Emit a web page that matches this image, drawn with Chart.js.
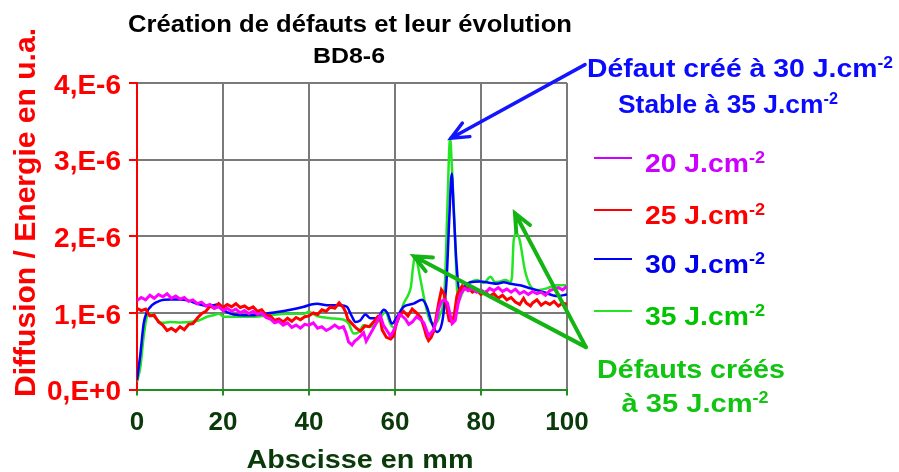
<!DOCTYPE html>
<html>
<head>
<meta charset="utf-8">
<script src="https://cdn.jsdelivr.net/npm/chart.js@4.4.1/dist/chart.umd.min.js"></script>
<style>
  html, body { margin: 0; padding: 0; background: #fff; }
  canvas { display: block; }
</style>
</head>
<body>
<canvas id="chart" width="899" height="472"></canvas>
<script>
const FONT = '"Liberation Sans", Arial, Helvetica, sans-serif';

// axis tick labels
const xTickLabels = ['0', '20', '40', '60', '80', '100'];
const yTickLabels = ['0,E+0', '1,E-6', '2,E-6', '3,E-6', '4,E-6'];

// series names (fluence)
const names = ['20 J.cm', '25 J.cm', '30 J.cm', '35 J.cm'];

// abscissa in mm / diffusion in 1e-6 u.a.
const x20 = [0,1,2,3,4,5,6,7,8,9,10,11,12,13,14,15,16,17,18,19,20,21,22,23,24,25,26,27,28,29,30,31,32,33,34,35,36,37,38,39,40,41,42,43,44,45,46,47,48,48.6,49.2,50,50.6,51.3,52,52.7,53.3,54,54.6,55.4,56.1,56.6,57.3,58,58.9,59.5,60.1,61,61.6,62.4,63.2,64,65,66,66.7,67.3,67.8,68.4,69,69.6,70.2,70.8,71.5,72.2,72.8,73.3,74,74.6,75.3,76.2,77,78,79,80,81,82,83,84,85,86,87,88,89,90,91,92,93,94,95,96,97,98,99,100];
const y20 = [1.16,1.20,1.17,1.23,1.19,1.24,1.21,1.25,1.19,1.22,1.18,1.20,1.15,1.17,1.12,1.14,1.09,1.11,1.06,1.08,1.03,1.06,1.02,1.05,1.00,1.03,0.99,1.02,0.98,1.00,0.94,0.92,0.87,0.89,0.84,0.87,0.81,0.84,0.80,0.85,0.84,0.87,0.80,0.82,0.77,0.80,0.84,0.80,0.82,0.74,0.62,0.58,0.63,0.66,0.70,0.74,0.63,0.70,0.76,0.84,0.92,0.96,0.84,0.78,0.70,0.75,0.82,0.98,0.96,0.92,0.85,0.88,0.95,0.91,0.87,0.78,0.70,0.74,0.78,0.90,1.06,1.15,1.17,1.13,0.98,0.86,0.90,1.10,1.25,1.32,1.29,1.32,1.27,1.30,1.26,1.32,1.29,1.33,1.28,1.31,1.27,1.31,1.25,1.28,1.24,1.28,1.25,1.27,1.23,1.29,1.31,1.33,1.30,1.35];

const x25 = [0,1,2,3,4,5,6,7,8,9,10,11,12,13,14,15,16,17,18,19,20,21,22,23,24,25,26,27,28,29,30,31,32,33,34,35,36,37,38,39,40,41,42,43,44,45,46,47,48,48.6,49,50,51,52,53,54,55,56,56.6,57,58,59,59.7,60.3,61,62,63,64,65,66,66.7,67.3,67.8,68.4,69,69.6,70.2,70.8,71.4,72,72.6,73.3,73.8,74.4,75,75.6,76,77,78,79,80,81,82,83,84,85,86,87,88,89,89.9,90.5,91.5,92,93,94,95,96,97,98,99,100];
const y25 = [1.06,1.03,1.05,0.96,0.97,0.88,0.84,0.77,0.80,0.76,0.82,0.78,0.85,0.86,0.93,0.99,1.02,1.09,1.06,1.12,1.07,1.11,1.08,1.12,1.07,1.09,1.05,1.08,1.02,1.04,0.97,0.96,0.90,0.92,0.88,0.93,0.89,0.94,0.91,0.95,0.96,1.00,0.98,1.04,1.02,1.08,1.06,1.13,1.07,1.00,0.92,0.86,0.80,0.76,0.83,0.82,0.88,0.95,0.92,0.78,0.68,0.66,0.70,0.86,0.96,1.02,0.96,1.05,1.00,0.94,0.82,0.70,0.64,0.68,0.76,0.95,1.14,1.30,1.25,1.08,0.90,0.88,0.98,1.22,1.30,1.35,1.31,1.33,1.27,1.30,1.24,1.27,1.22,1.25,1.19,1.23,1.17,1.20,1.14,1.11,1.19,1.13,1.09,1.13,1.17,1.10,1.14,1.11,1.15,1.09,1.13,1.11];

const x30 = [0,0.8,1.55,2.3,3.5,5.4,7.75,10.1,12,14,16.3,17.8,18.6,19.8,20.9,22.5,24.8,27.1,29.5,32.6,35.7,38.8,40.5,41.9,44.2,47.3,48.8,50,50.8,51.9,53.1,54.3,55.8,57.4,58.3,59.3,60.5,62,64.3,66.3,67.4,68.6,69.8,70.9,71.6,72,72.6,73.2,73.6,74.3,75.1,76.4,77.5,79.8,82.2,83.7,85.3,86.8,89.1,91.5,94.6,97.7,100];
const y30 = [0.12,0.47,0.86,1.01,1.10,1.16,1.175,1.175,1.16,1.12,1.09,1.10,1.11,1.06,1.01,0.98,0.97,0.97,0.99,1.01,1.04,1.08,1.11,1.12,1.10,1.10,1.08,0.95,0.88,0.90,0.98,0.93,0.93,1.04,0.99,0.86,0.95,1.08,1.12,1.17,1.08,0.86,0.75,0.86,1.15,1.43,2.2,2.82,2.4,1.65,1.28,1.36,1.40,1.41,1.39,1.38,1.40,1.38,1.36,1.32,1.27,1.22,1.24];

const x35 = [0,0.8,1.55,2.3,3.1,4.3,5.8,7.75,10.1,12.4,14.3,16.3,17.8,19,20.2,23.3,27.1,31,34.9,38.8,39.9,41.9,45,48.1,49.2,50.4,51.6,52.7,54.3,55.8,57.8,58.9,59.7,60.9,62,63.2,63.7,64.2,64.6,65,65.8,67,68.1,69.3,70.3,71.6,72.2,72.8,73.2,73.9,74.5,74.9,75.5,76.4,77.5,79.1,80.6,82.2,83.3,84.5,85.7,86.8,87.2,87.6,88.3,89,90.2,91.4,93,95.3,97.6,100];
const y35 = [0.10,0.30,0.69,0.95,0.99,0.93,0.87,0.88,0.875,0.88,0.90,0.95,0.97,0.99,0.95,0.95,0.95,0.97,0.99,0.99,1.01,0.96,0.93,0.91,0.86,0.73,0.75,0.84,0.82,0.87,1.01,0.86,0.81,0.93,1.12,1.25,1.34,1.60,1.73,1.70,1.47,1.13,0.90,0.86,0.95,1.38,2.4,3.29,2.95,2.08,1.25,1.17,1.24,1.34,1.40,1.43,1.39,1.47,1.40,1.41,1.43,1.40,1.47,1.95,2.04,1.95,1.56,1.36,1.30,1.32,1.36,1.36];

const lineColors = ['#ff00ff', '#ff0000', '#0000ff', '#22e622'];
const textColors = ['#cc00ff', '#ff0000', '#0000ee', '#00c400'];

function pts(xs, ys) { return xs.map((x, i) => ({ x: x, y: ys[i] })); }

// rich text: parts = [[text, isSuperscript]]
function rich(ctx, parts, x, y, size, color, align, width) {
  const main = 'bold ' + size + 'px ' + FONT;
  const small = 'bold ' + Math.round(size * 0.62) + 'px ' + FONT;
  let w = 0;
  parts.forEach(([t, s]) => { ctx.font = s ? small : main; w += ctx.measureText(t).width; });
  const sx = width ? width / w : 1;
  ctx.save();
  ctx.fillStyle = color;
  ctx.textAlign = 'left';
  ctx.textBaseline = 'alphabetic';
  const left = align === 'center' ? x - w * sx / 2 : x;
  ctx.translate(left, y);
  ctx.scale(sx, 1);
  let cx = 0;
  parts.forEach(([t, s]) => {
    ctx.font = s ? small : main;
    ctx.fillText(t, cx, s ? -size * 0.36 : 0);
    cx += ctx.measureText(t).width;
  });
  ctx.restore();
}

function arrow(ctx, x0, y0, x1, y1, color, lw) {
  const a = Math.atan2(y1 - y0, x1 - x0);
  const len = 19, spread = 0.42;
  ctx.save();
  ctx.strokeStyle = color;
  ctx.lineWidth = lw;
  ctx.lineCap = 'round';
  ctx.beginPath();
  ctx.moveTo(x0, y0); ctx.lineTo(x1, y1);
  ctx.moveTo(x1 - len * Math.cos(a - spread), y1 - len * Math.sin(a - spread));
  ctx.lineTo(x1, y1);
  ctx.lineTo(x1 - len * Math.cos(a + spread), y1 - len * Math.sin(a + spread));
  ctx.stroke();
  ctx.restore();
}

const decor = {
  id: 'decor',
  afterDraw(chart) {
    const ctx = chart.ctx;
    const sx = chart.scales.x, sy = chart.scales.y;
    const P = (x, y) => [sx.getPixelForValue(x), sy.getPixelForValue(y)];

    // titles
    rich(ctx, [['Création de défauts et leur évolution', false]], 350, 32, 24, '#000', 'center', 444);
    rich(ctx, [['BD8-6', false]], 349, 63, 22, '#000', 'center', 72);
    rich(ctx, [['Abscisse en mm', false]], 360, 468, 25, '#0a3a0a', 'center', 227);

    ctx.save();
    ctx.translate(35, 212.5);
    ctx.rotate(-Math.PI / 2);
    rich(ctx, [['Diffusion / Energie en u.a.', false]], 0, 0, 30, '#ff0000', 'center', 369);
    ctx.restore();

    // arrows (tips anchored on data peaks)
    const t0 = P(104.2, 4.24), t1 = P(73.0, 3.28);
    arrow(ctx, t0[0], t0[1], t1[0], t1[1], '#1414ff', 3.5);
    const g0 = P(104.4, 0.553), g1 = P(64.4, 1.74), g2 = P(87.9, 2.30);
    arrow(ctx, g0[0], g0[1], g1[0], g1[1], '#14b414', 4);
    arrow(ctx, g0[0], g0[1], g2[0], g2[1], '#14b414', 4);

    // annotations
    rich(ctx, [['Défaut créé à 30 J.cm', false], ['-2', true]], 740, 77, 26, '#0a0aff', 'center', 306);
    rich(ctx, [['Stable à 35 J.cm', false], ['-2', true]], 728, 113, 26, '#0a0aff', 'center', 220);
    rich(ctx, [['Défauts créés', false]], 691, 378, 26, '#11c411', 'center', 188);
    rich(ctx, [['à 35 J.cm', false], ['-2', true]], 695, 412, 26, '#11c411', 'center', 147);

    // legend
    const rows = [158, 210, 259, 311];
    names.forEach((n, i) => {
      ctx.save();
      ctx.strokeStyle = i === 0 ? '#cc00ff' : lineColors[i];
      ctx.lineWidth = 2;
      ctx.beginPath();
      ctx.moveTo(594, rows[i]); ctx.lineTo(632, rows[i]);
      ctx.stroke();
      ctx.restore();
      rich(ctx, [[n, false], ['-2', true]], 645, rows[i] + 13.5, 25, textColors[i], 'left', 120);
    });
  }
};

new Chart(document.getElementById('chart'), {
  type: 'scatter',
  data: {
    datasets: [
      { label: names[0], data: pts(x20, y20), borderColor: lineColors[0], borderWidth: 3 },
      { label: names[1], data: pts(x25, y25), borderColor: lineColors[1], borderWidth: 3 },
      { label: names[2], data: pts(x30, y30), borderColor: lineColors[2], cubicInterpolationMode: 'monotone' },
      { label: names[3], data: pts(x35, y35), borderColor: lineColors[3], cubicInterpolationMode: 'monotone' }
    ].map(d => Object.assign({ showLine: true, pointRadius: 0, borderWidth: 2.5, fill: false }, d))
  },
  options: {
    responsive: false,
    animation: false,
    events: [],
    layout: { padding: { top: 83, right: 332, left: 0, bottom: 0 } },
    plugins: { legend: { display: false }, title: { display: false }, tooltip: { enabled: false } },
    scales: {
      x: {
        type: 'linear', min: 0, max: 100,
        afterFit: s => { s.height = 82.5; },
        border: { color: '#1f8f1f', width: 2 },
        grid: { color: '#7a7a7a', lineWidth: 2, tickColor: '#1f8f1f', tickLength: 6 },
        ticks: {
          stepSize: 20, padding: 12, color: '#0a3a0a',
          font: { family: FONT, size: 26, weight: 'bold' },
          maxRotation: 0,
          callback: v => xTickLabels[Math.round(v / 20)]
        }
      },
      y: {
        min: 0, max: 4,
        afterFit: s => { s.width = 137; },
        border: { color: '#ff0000', width: 2 },
        grid: { color: '#7a7a7a', lineWidth: 2, tickColor: '#ff0000', tickLength: 8 },
        ticks: {
          stepSize: 1, padding: 8, color: '#ff0000', labelOffset: 3,
          font: { family: FONT, size: 28, weight: 'bold' },
          callback: v => yTickLabels[Math.round(v)]
        }
      }
    }
  },
  plugins: [decor]
});
</script>
</body>
</html>
